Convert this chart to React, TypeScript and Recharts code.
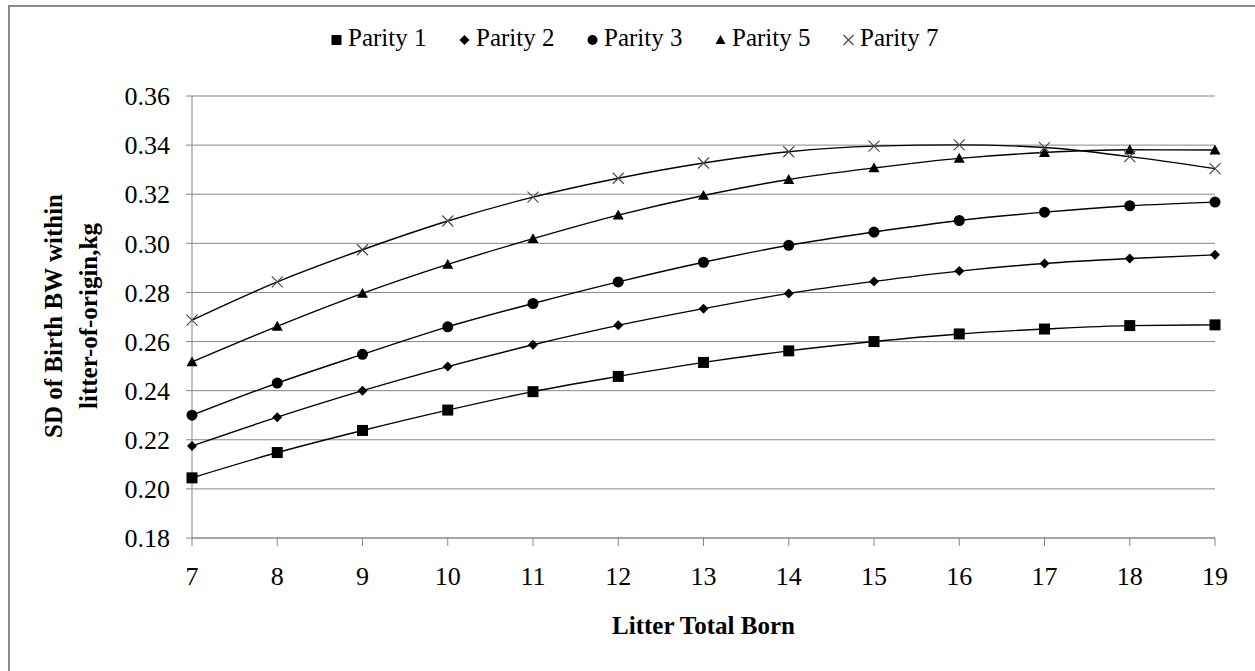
import React from 'react';
import { LineChart, Line, XAxis, YAxis, CartesianGrid } from 'recharts';

// Litter size categories on the horizontal axis
const litterTotalBorn = [7, 8, 9, 10, 11, 12, 13, 14, 15, 16, 17, 18, 19];

// SD of birth weight within litter-of-origin (kg) for each parity
const parity1 = [0.2045, 0.2148, 0.2238, 0.2321, 0.2396, 0.2458, 0.2515, 0.2562, 0.26, 0.2631, 0.2651, 0.2665, 0.2668];
const parity2 = [0.2175, 0.2292, 0.24, 0.2498, 0.2587, 0.2666, 0.2734, 0.2796, 0.2845, 0.2887, 0.2918, 0.2938, 0.2953];
const parity3 = [0.23, 0.2431, 0.2548, 0.266, 0.2755, 0.2843, 0.2923, 0.2992, 0.3046, 0.3093, 0.3127, 0.3153, 0.3168];
const parity5 = [0.2517, 0.2662, 0.2796, 0.2914, 0.3019, 0.3115, 0.3195, 0.326, 0.3307, 0.3346, 0.337, 0.3381, 0.338];
const parity7 = [0.2687, 0.2843, 0.2974, 0.3091, 0.3188, 0.3265, 0.3327, 0.3373, 0.3396, 0.3401, 0.339, 0.3353, 0.3304];

const yTicks = [0.18, 0.2, 0.22, 0.24, 0.26, 0.28, 0.3, 0.32, 0.34, 0.36];

const xTitle = 'Litter Total Born';
const yTitleLines = ['SD of Birth BW within', 'litter-of-origin,kg'];

type Shape = 'square' | 'diamond' | 'circle' | 'triangle' | 'cross';

const seriesList: { key: string; name: string; values: number[]; shape: Shape }[] = [
  { key: 'p1', name: 'Parity 1', values: parity1, shape: 'square' },
  { key: 'p2', name: 'Parity 2', values: parity2, shape: 'diamond' },
  { key: 'p3', name: 'Parity 3', values: parity3, shape: 'circle' },
  { key: 'p5', name: 'Parity 5', values: parity5, shape: 'triangle' },
  { key: 'p7', name: 'Parity 7', values: parity7, shape: 'cross' },
];

const data = litterTotalBorn.map((born, i) => {
  const row: Record<string, number> = { born };
  seriesList.forEach((s) => {
    row[s.key] = s.values[i];
  });
  return row;
});

const FONT = '"Liberation Serif", "Times New Roman", Times, serif';
const GRID = '#868686';
const serifStyle = { fontFamily: FONT };

function Marker({ shape, cx, cy, size }: { shape: Shape; cx: number; cy: number; size: number }) {
  const h = size / 2;
  switch (shape) {
    case 'square':
      return <rect x={cx - h} y={cy - h} width={size} height={size} fill="#000" />;
    case 'diamond':
      return (
        <polygon
          points={`${cx},${cy - h} ${cx + h},${cy} ${cx},${cy + h} ${cx - h},${cy}`}
          fill="#000"
        />
      );
    case 'circle':
      return <circle cx={cx} cy={cy} r={h} fill="#000" />;
    case 'triangle':
      return (
        <polygon
          points={`${cx},${cy - h} ${cx + h},${cy + h * 0.8} ${cx - h},${cy + h * 0.8}`}
          fill="#000"
        />
      );
    case 'cross':
    default:
      return (
        <path
          d={`M${cx - h},${cy - h}L${cx + h},${cy + h}M${cx + h},${cy - h}L${cx - h},${cy + h}`}
          stroke="#4a4a4a"
          strokeWidth={1.2}
          fill="none"
        />
      );
  }
}

function YTitle(props: any) {
  const vb = props.viewBox || { x: 0, y: 0, width: 0, height: 0 };
  const cy = vb.y + vb.height / 2 - 1;
  const xs = [vb.x + 62, vb.x + 97];
  return (
    <g>
      {yTitleLines.map((line, i) => (
        <text
          key={line}
          x={xs[i]}
          y={cy}
          transform={`rotate(-90 ${xs[i]} ${cy})`}
          textAnchor="middle"
          style={serifStyle}
          fontWeight="bold"
          fontSize={25}
          fill="#000"
        >
          {line}
        </text>
      ))}
    </g>
  );
}

function XTitle(props: any) {
  const vb = props.viewBox || { x: 0, y: 0, width: 0, height: 0 };
  return (
    <text
      x={vb.x + vb.width / 2}
      y={vb.y + 96}
      textAnchor="middle"
      style={serifStyle}
      fontWeight="bold"
      fontSize={25}
      fill="#000"
    >
      {xTitle}
    </text>
  );
}

function LegendRow() {
  const startX = 331;
  const pitch = 128;
  return (
    <svg
      width={1255}
      height={70}
      style={{ position: 'absolute', left: 0, top: 0, pointerEvents: 'none' }}
    >
      {seriesList.map((s, i) => {
        const x = startX + i * pitch;
        return (
          <g key={s.key}>
            <Marker shape={s.shape} cx={x + 5.5} cy={40} size={10} />
            <text x={x + 17} y={46} style={serifStyle} fontSize={25} fill="#000">
              {s.name}
            </text>
          </g>
        );
      })}
    </svg>
  );
}

export default function App() {
  return (
    <div
      style={{
        position: 'absolute',
        left: 0,
        top: 0,
        width: 1255,
        height: 671,
        overflow: 'hidden',
        background: '#fff',
        fontFamily: FONT,
      }}
    >
      <div
        style={{
          position: 'absolute',
          left: 8,
          top: 5,
          width: 1247,
          height: 666,
          boxSizing: 'border-box',
          borderLeft: '2px solid #8a8a8a',
          borderTop: '2px solid #8a8a8a',
        }}
      />
      <div style={{ position: 'absolute', left: 0, top: 0 }}>
        <LineChart
          width={1255}
          height={671}
          data={data}
          margin={{ top: 96, right: 40, left: 0, bottom: 33 }}
          style={serifStyle}
        >
          <CartesianGrid horizontal vertical={false} stroke={GRID} strokeWidth={1} />
          <XAxis
            dataKey="born"
            type="category"
            interval={0}
            height={100}
            tickSize={8}
            tickMargin={21}
            axisLine={{ stroke: GRID }}
            tickLine={{ stroke: GRID }}
            tick={{ fontSize: 26, fill: '#000', style: serifStyle }}
            label={<XTitle />}
          />
          <YAxis
            type="number"
            domain={[0.18, 0.36]}
            ticks={yTicks}
            interval={0}
            width={192}
            tickSize={6}
            tickMargin={16}
            tickFormatter={(v: number) => v.toFixed(2)}
            axisLine={{ stroke: GRID }}
            tickLine={{ stroke: GRID }}
            tick={{ fontSize: 26, fill: '#000', style: serifStyle }}
            label={<YTitle />}
          />
          {seriesList.map((s) => (
            <Line
              key={s.key}
              dataKey={s.key}
              name={s.name}
              type="monotone"
              stroke="#000"
              strokeWidth={1.4}
              isAnimationActive={false}
              activeDot={false}
              dot={(p: any) => (
                <Marker
                  key={`${s.key}-${p.index}`}
                  shape={s.shape}
                  cx={p.cx}
                  cy={p.cy}
                  size={s.shape === 'diamond' ? 10 : 11}
                />
              )}
            />
          ))}
        </LineChart>
      </div>
      <LegendRow />
    </div>
  );
}
